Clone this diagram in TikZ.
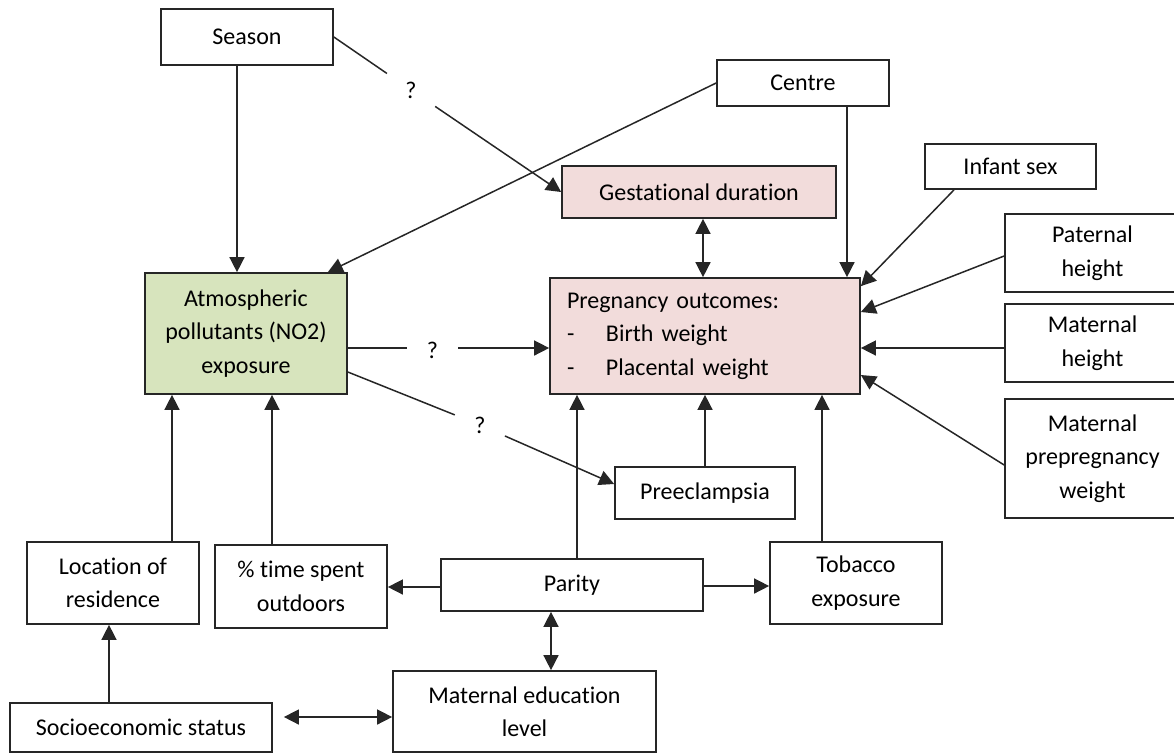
\documentclass[tikz,border=0pt]{standalone}
\usepackage{fontspec}
\setmainfont{Carlito}[Ligatures=NoCommon]
\usetikzlibrary{arrows.meta}
\definecolor{pinkfill}{HTML}{F2DCDB}
\definecolor{greenfill}{HTML}{D7E4BD}
\begin{document}
\begin{tikzpicture}[x=1pt,y=-1pt,
  every node/.style={font=\fontsize{24}{33.5}\selectfont, text=black},
  box/.style={draw=black!85, line width=1.7pt, fill=white, align=center, inner sep=0pt},
  pinkbox/.style={box, fill=pinkfill},
  greenbox/.style={box, fill=greenfill},
  conn/.style={line width=1.5pt, draw=black!85},
  arr/.style={conn, -{Triangle[length=15pt,width=15pt]}},
  darr/.style={conn, {Triangle[length=15pt,width=15pt]}-{Triangle[length=15pt,width=15pt]}},
  qmark/.style={circle, inner sep=0pt}
]
\useasboundingbox (0,0) rectangle (1174,753);

% nodes
\node[box, minimum width=172pt, minimum height=56pt] (season) at (247,37) {Season};
\node[box, minimum width=172pt, minimum height=46pt] (centre) at (803,83) {Centre};
\node[pinkbox, minimum width=274pt, minimum height=52pt] (gest) at (699,192) {Gestational duration};
\node[box, minimum width=171pt, minimum height=45pt] (infant) at (1010.5,166.5) {Infant sex};
\node[box, minimum width=175pt, minimum height=78pt] (paternal) at (1092.5,253) {Paternal\\height};
\node[box, minimum width=175pt, minimum height=78pt] (mh) at (1092.5,343) {Maternal\\height};
\node[box, minimum width=175pt, minimum height=119pt] (pw) at (1092.5,458.5) {Maternal\\prepregnancy\\weight};
\node[greenbox, minimum width=202pt, minimum height=121pt] (atmos) at (246,333.5) {Atmospheric\\pollutants (NO2)\\exposure};
\node[pinkbox, minimum width=310pt, minimum height=116pt, text width=276pt, align=left, inner xsep=17pt] (preg) at (705,336)
  {Pregnancy outcomes:\\\makebox[39pt][l]{-}Birth weight\\\makebox[39pt][l]{-}Placental weight};
\node[box, minimum width=180pt, minimum height=52pt] (pre) at (705,493) {Preeclampsia};
\node[box, minimum width=172pt, minimum height=82pt] (loc) at (113,583) {Location of\\residence};
\node[box, minimum width=172pt, minimum height=83pt] (time) at (301,586.5) {\% time spent\\outdoors};
\node[box, minimum width=262pt, minimum height=52pt] (parity) at (572,585) {Parity};
\node[box, minimum width=172pt, minimum height=82pt] (tob) at (856,583) {Tobacco\\exposure};
\node[box, minimum width=263pt, minimum height=81pt] (edu) at (524.5,711.5) {Maternal education\\level};
\node[box, minimum width=262pt, minimum height=49pt] (socio) at (141,727.5) {Socioeconomic status};

% question marks
\node[qmark, minimum size=58pt] (q1) at (411,90) {?};
\node[qmark, minimum size=51pt] (q2) at (432.5,350) {?};
\node[qmark, minimum size=54pt] (q3) at (480,425) {?};

% connectors
\draw[arr] ([xshift=-10pt]season.south) -- ([xshift=-10pt]season.south |- atmos.north);
\draw[conn] (season.east) -- (q1);
\draw[arr] (q1) -- (gest.west);
\draw[arr] (centre.west) -- ([xshift=-20pt]atmos.north east);
\draw[arr] ([xshift=44pt]centre.south) -- ([xshift=44pt]centre.south |- preg.north);
\draw[darr] ([xshift=4pt]gest.south) -- ([xshift=4pt]gest.south |- preg.north);
\draw[arr] ([xshift=-56.5pt]infant.south) -- ([yshift=-9pt]preg.north east);
\draw[arr] ([yshift=-3pt]paternal.west) -- ([yshift=24pt]preg.east);
\draw[arr] ([yshift=-5pt]mh.west) -- ([yshift=-5pt]mh.west -| preg.east);
\draw[arr] ([yshift=-6.5pt]pw.west) -- ([yshift=-39pt]preg.east);

\coordinate (a1) at ([yshift=-14.5pt]atmos.east);
\draw[conn] (a1) -- (q2.west |- a1);
\draw[arr] (q2.east |- a1) -- (preg.west |- a1);
\draw[conn] ([yshift=-38.5pt]atmos.east) -- (q3);
\draw[arr] (q3) -- ([yshift=9pt]pre.west);

\draw[arr] (pre.north) -- (pre.north |- preg.south);
\draw[arr] ([xshift=5pt]parity.north) -- ([xshift=5pt]parity.north |- preg.south);
\draw[arr] ([xshift=-34pt]tob.north) -- ([xshift=-34pt]tob.north |- preg.south);
\draw[arr] ([yshift=-2pt]parity.west) -- ([yshift=-2pt]parity.west -| time.east);
\draw[arr] ([yshift=-1pt]parity.east) -- ([yshift=-1pt]parity.east -| tob.west);
\draw[darr] ([xshift=-21pt]parity.south) -- ([xshift=-21pt]parity.south |- edu.north);
\draw[arr] ([xshift=59pt]loc.north) -- ([xshift=59pt]loc.north |- atmos.south);
\draw[arr] ([xshift=-29pt]time.north) -- ([xshift=-29pt]time.north |- atmos.south);
\draw[arr] ([xshift=-32pt]socio.north) -- ([xshift=-32pt]socio.north |- loc.south);
\coordinate (s1) at ([xshift=11pt,yshift=10.5pt]socio.east);
\draw[darr] (s1) -- (s1 -| edu.west);
\end{tikzpicture}
\end{document}
